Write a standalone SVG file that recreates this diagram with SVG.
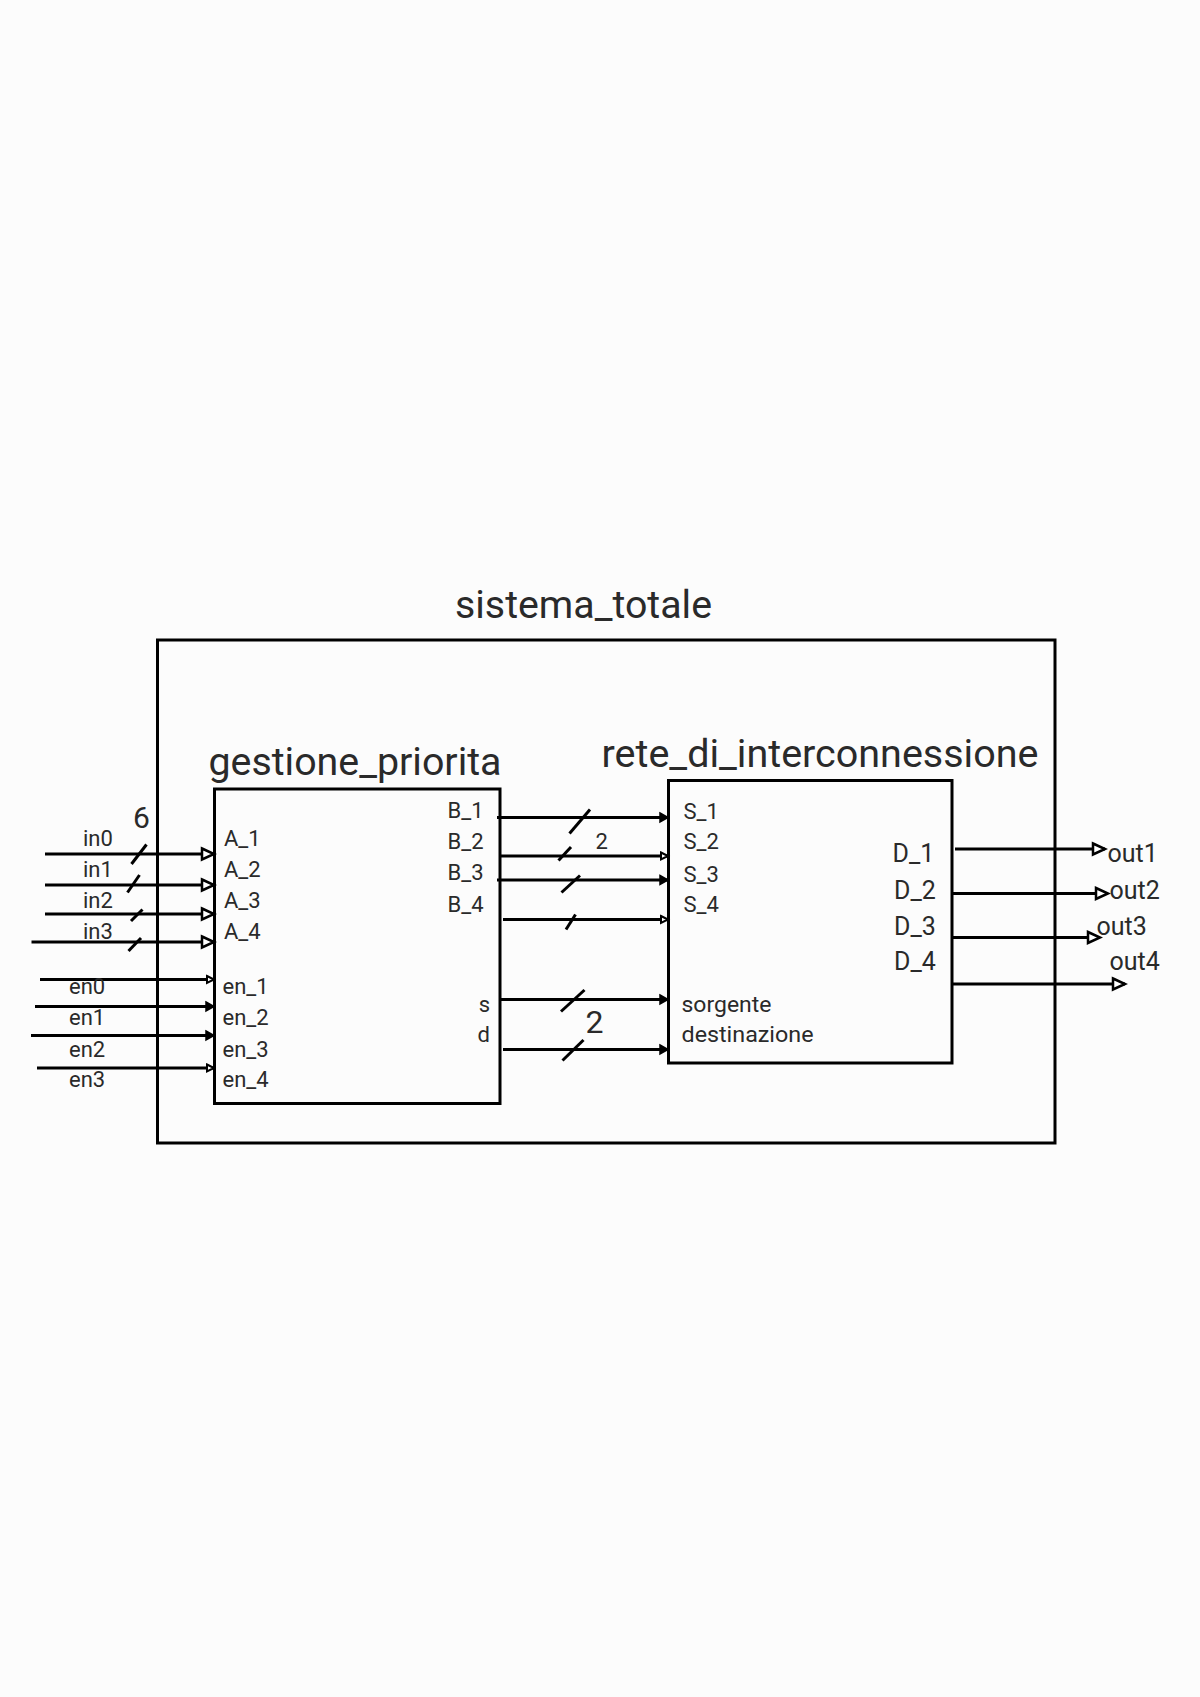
<svg xmlns="http://www.w3.org/2000/svg" width="1200" height="1697" viewBox="0 0 1200 1697">
<defs>
<style>
.t{font-family:Roboto,"Liberation Sans",sans-serif;fill:#2a2a2a}
.s{font-size:22px}
.m{font-size:25px}
.h{font-size:39px}
.box{fill:none;stroke:#000;stroke-width:3}
.w{stroke:#000;stroke-width:3;fill:none}
.sl{stroke:#000;stroke-width:3;fill:none}
</style>
<marker id="aOpen" markerUnits="userSpaceOnUse" markerWidth="16" markerHeight="16" refX="13" refY="6" orient="auto" overflow="visible">
<path d="M1,0.5 L13,6 L1,11.5 z" fill="#fff" stroke="#000" stroke-width="2.5"/>
</marker>
<marker id="aOpenS" markerUnits="userSpaceOnUse" markerWidth="12" markerHeight="12" refX="8" refY="4" orient="auto" overflow="visible">
<path d="M1,0.5 L8,4 L1,7.5 z" fill="#fff" stroke="#000" stroke-width="2"/>
</marker>
<marker id="aFill" markerUnits="userSpaceOnUse" markerWidth="12" markerHeight="12" refX="8" refY="4.5" orient="auto" overflow="visible">
<path d="M0,0 L8,4.5 L0,9 z" fill="#000" stroke="#000" stroke-width="1.5"/>
</marker>
</defs>
<rect x="0" y="0" width="1200" height="1697" fill="#fcfcfc"/>

<g id="sistema_totale">
<rect class="box" x="157.5" y="640" width="897.5" height="503"/>
<text class="t h" x="455" y="618" textLength="257" lengthAdjust="spacingAndGlyphs">sistema_totale</text>
</g>

<g id="gestione_priorita">
<rect class="box" x="214.5" y="789" width="285.5" height="314.5"/>
<text class="t h" x="208.5" y="775" textLength="293" lengthAdjust="spacingAndGlyphs">gestione_priorita</text>
<text class="t s" x="224" y="846">A_1</text>
<text class="t s" x="224" y="877">A_2</text>
<text class="t s" x="224" y="908">A_3</text>
<text class="t s" x="224" y="939">A_4</text>
<text class="t s" x="222.5" y="994">en_1</text>
<text class="t s" x="222.5" y="1025">en_2</text>
<text class="t s" x="222.5" y="1057">en_3</text>
<text class="t s" x="222.5" y="1087">en_4</text>
<text class="t s" x="447.5" y="818">B_1</text>
<text class="t s" x="447.5" y="849">B_2</text>
<text class="t s" x="447.5" y="880">B_3</text>
<text class="t s" x="447.5" y="912">B_4</text>
<text class="t s" x="490" y="1012" text-anchor="end">s</text>
<text class="t s" x="490" y="1042" text-anchor="end">d</text>
</g>

<g id="rete_di_interconnessione">
<rect class="box" x="668.5" y="780.5" width="283.5" height="282.5"/>
<text class="t h" x="601.5" y="766.5" textLength="437" lengthAdjust="spacingAndGlyphs">rete_di_interconnessione</text>
<text class="t s" x="683.5" y="819">S_1</text>
<text class="t s" x="683.5" y="849">S_2</text>
<text class="t s" x="683.5" y="881.5">S_3</text>
<text class="t s" x="683.5" y="911.5">S_4</text>
<text class="t" style="font-size:22.5px" x="681.5" y="1011.5" textLength="90" lengthAdjust="spacingAndGlyphs">sorgente</text>
<text class="t" style="font-size:22.5px" x="681.5" y="1041.5" textLength="132" lengthAdjust="spacingAndGlyphs">destinazione</text>
<text class="t m" x="892.5" y="862">D_1</text>
<text class="t m" x="894" y="899">D_2</text>
<text class="t m" x="894" y="935">D_3</text>
<text class="t m" x="894" y="970">D_4</text>
</g>

<g id="connectors">
<line class="w" x1="45" y1="854" x2="214" y2="854" marker-end="url(#aOpen)"/>
<line class="w" x1="45" y1="885" x2="214" y2="885" marker-end="url(#aOpen)"/>
<line class="w" x1="45" y1="914" x2="214" y2="914" marker-end="url(#aOpen)"/>
<line class="w" x1="31.5" y1="942" x2="214" y2="942" marker-end="url(#aOpen)"/>
<line class="w" x1="40" y1="979.5" x2="214" y2="979.5" marker-end="url(#aOpenS)"/>
<line class="w" x1="35" y1="1006.5" x2="214" y2="1006.5" marker-end="url(#aFill)"/>
<line class="w" x1="31" y1="1035.5" x2="214" y2="1035.5" marker-end="url(#aFill)"/>
<line class="w" x1="37" y1="1068" x2="214" y2="1068" marker-end="url(#aOpenS)"/>

<line class="w" x1="497" y1="817.5" x2="668" y2="817.5" marker-end="url(#aFill)"/>
<line class="w" x1="500" y1="856" x2="668" y2="856" marker-end="url(#aOpenS)"/>
<line class="w" x1="497" y1="880" x2="668" y2="880" marker-end="url(#aFill)"/>
<line class="w" x1="503" y1="919.5" x2="668" y2="919.5" marker-end="url(#aOpenS)"/>
<line class="w" x1="501" y1="999.5" x2="668" y2="999.5" marker-end="url(#aFill)"/>
<line class="w" x1="503" y1="1049.5" x2="668" y2="1049.5" marker-end="url(#aFill)"/>

<line class="w" x1="955" y1="849" x2="1105" y2="849" marker-end="url(#aOpen)"/>
<line class="w" x1="953" y1="893.5" x2="1108" y2="893.5" marker-end="url(#aOpen)"/>
<line class="w" x1="951" y1="937.5" x2="1100" y2="937.5" marker-end="url(#aOpen)"/>
<line class="w" x1="952" y1="984" x2="1125" y2="984" marker-end="url(#aOpen)"/>

<line class="sl" x1="131.5" y1="864" x2="146.5" y2="844.5"/>
<line class="sl" x1="127.5" y1="892.5" x2="139.5" y2="875"/>
<line class="sl" x1="131" y1="921" x2="142.5" y2="909.5"/>
<line class="sl" x1="128.5" y1="951" x2="141" y2="938"/>
<line class="sl" x1="569.5" y1="833.5" x2="590" y2="809.5"/>
<line class="sl" x1="558.5" y1="860.5" x2="571" y2="847"/>
<line class="sl" x1="561.5" y1="892.5" x2="580" y2="875.5"/>
<line class="sl" x1="566" y1="929.5" x2="575.5" y2="914.5"/>
<line class="sl" x1="561" y1="1011.5" x2="584.5" y2="990"/>
<line class="sl" x1="562.5" y1="1060.5" x2="583.5" y2="1040"/>
</g>

<g id="labels">
<text class="t s" x="83" y="846">in0</text>
<text class="t s" x="83" y="877">in1</text>
<text class="t s" x="83" y="908">in2</text>
<text class="t s" x="83" y="938.5">in3</text>
<text class="t s" x="69" y="994">en0</text>
<text class="t s" x="69" y="1025">en1</text>
<text class="t s" x="69" y="1057">en2</text>
<text class="t s" x="69" y="1087">en3</text>
<text class="t" style="font-size:30px" x="133" y="828">6</text>
<text class="t s" x="595.5" y="849">2</text>
<text class="t" style="font-size:32px" x="585.5" y="1032.5">2</text>
<text class="t m" x="1107.5" y="862">out1</text>
<text class="t m" x="1109.5" y="899">out2</text>
<text class="t m" x="1096.5" y="935">out3</text>
<text class="t m" x="1109.5" y="970">out4</text>
</g>
</svg>
